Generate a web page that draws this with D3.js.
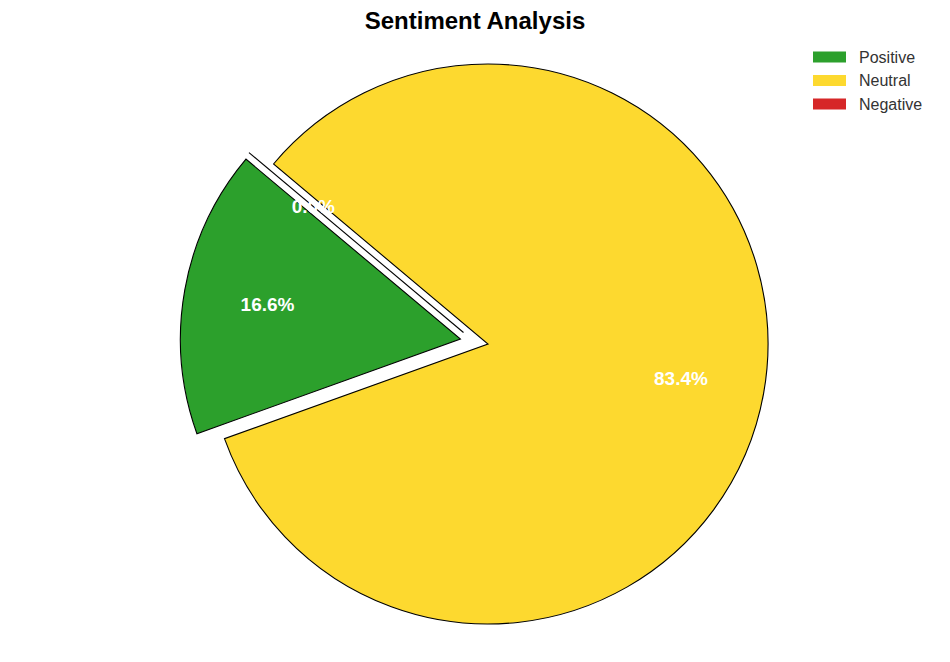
<!DOCTYPE html>
<html><head><meta charset="utf-8">
<script src="https://cdn.jsdelivr.net/npm/d3@7"></script>
<style>body{margin:0;background:#fff}svg{display:block}</style>
</head><body>
<script>
const categories = ["Positive", "Neutral", "Negative"];
const values = [16.6, 83.4, 0.0];
const colors = ["#2ca02c", "#fdd92f", "#d62728"];
const explode = [0.1, 0, 0.1];
const startAngleDeg = 140;

const W = 950, H = 662;
const cx = 488, cy = 344, R = 280;
const FONT = "Liberation Sans, Arial, sans-serif";
const svg = d3.select("body").append("svg").attr("width", W).attr("height", H);

svg.append("text").attr("x", 475).attr("y", 28.5).attr("text-anchor", "middle")
  .style("font-family", FONT).style("font-weight", "bold")
  .style("font-size", "24px").attr("fill", "#000").text("Sentiment Analysis");

const total = d3.sum(values);
const toRad = d => d * Math.PI / 180;
let cum = 0;
const slices = values.map((v, i) => {
  const t0 = startAngleDeg + 360 * cum / total;
  cum += v;
  const t1 = startAngleDeg + 360 * cum / total;
  const tm = (t0 + t1) / 2;
  return {i, v, t0, t1, tm};
});
// explosion offsets
slices.forEach(s => {
  const off = explode[s.i] * R;
  s.ox = off * Math.cos(toRad(s.tm));
  s.oy = -off * Math.sin(toRad(s.tm));
});
// zero-width exploded slices sit in the gap next to their exploded neighbour
slices.forEach(s => {
  if (s.v === 0 && explode[s.i] > 0) {
    const nb = slices[(s.i + 1) % slices.length];
    if (explode[nb.i] > 0 && nb.v > 0) {
      s.ox = (s.ox + nb.ox) / 2; s.oy = (s.oy + nb.oy) / 2;
    }
  }
});

const arc = d3.arc().innerRadius(0).outerRadius(R);
const g = svg.append("g").attr("transform", `translate(${cx},${cy})`);

slices.forEach(s => {
  const a0 = toRad(90 - s.t0), a1 = toRad(90 - s.t1);
  if (s.v === 0) {
    g.append("path")
      .attr("d", d3.line()([[s.ox, s.oy], [s.ox + R * Math.cos(toRad(s.t0)), s.oy - R * Math.sin(toRad(s.t0))]]))
      .attr("fill", "none").attr("stroke", "#000").attr("stroke-width", 1.1);
    return;
  }
  g.append("path")
    .attr("transform", `translate(${s.ox},${s.oy})`)
    .attr("d", arc({startAngle: Math.min(a0, a1), endAngle: Math.max(a0, a1)}))
    .attr("fill", colors[s.i]).attr("stroke", "#000").attr("stroke-width", 1.1)
    .attr("stroke-linejoin", "miter");
});
slices.forEach(s => {
  const r = 0.7 * R;
  g.append("text")
    .attr("x", s.ox + r * Math.cos(toRad(s.tm)))
    .attr("y", s.oy - r * Math.sin(toRad(s.tm)))
    .attr("text-anchor", "middle").attr("dominant-baseline", "central")
    .style("font-family", FONT).style("font-weight", "bold")
    .style("font-size", "19px").attr("fill", "#fff")
    .text((s.v / total * 100).toFixed(1) + "%");
});

const leg = svg.append("g");
categories.forEach((c, i) => {
  const y = 57 + i * 23.5;
  leg.append("rect").attr("x", 813).attr("y", y - 5.5).attr("width", 33).attr("height", 11).attr("fill", colors[i]);
  leg.append("text").attr("x", 859).attr("y", y).attr("dominant-baseline", "central")
    .style("font-family", FONT).style("font-size", "16px")
    .attr("fill", "#333").text(c);
});
</script>
</body></html>
